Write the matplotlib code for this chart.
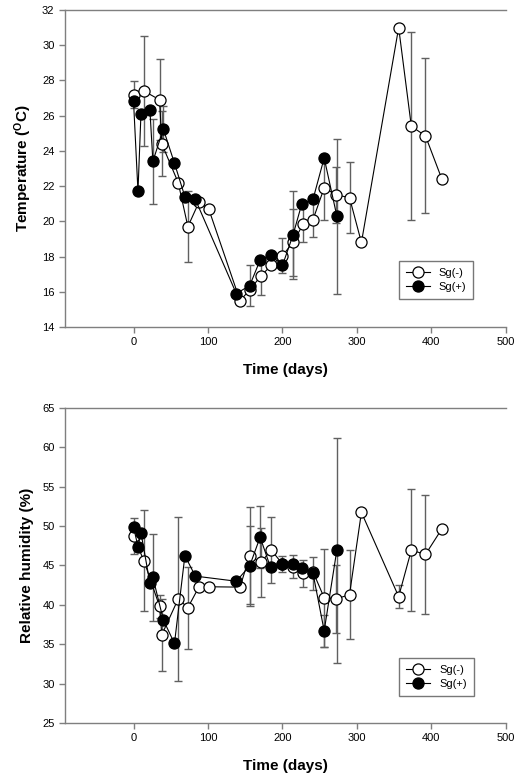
import matplotlib
matplotlib.use("Agg")
import matplotlib.pyplot as plt
import numpy as np

plt.rcParams['font.family'] = ['Liberation Sans', 'DejaVu Sans']
plt.rcParams['mathtext.fontset'] = 'custom'
plt.rcParams['mathtext.rm'] = 'Liberation Sans'
plt.rcParams['mathtext.bf'] = 'Liberation Sans:bold'

# sampling days
days_neg = [0, 14, 35, 38, 60, 73, 88, 101, 143, 156, 171, 185, 200, 214,
            228, 241, 256, 272, 290, 306, 356, 373, 392, 414]
days_pos = [0, 6, 10, 22, 26, 40, 55, 69, 83, 138, 156, 170, 184, 200,
            214, 226, 241, 256, 273]

# temperature, Sg(-) and Sg(+)
temp_neg = [27.2, 27.4, 26.9, 24.4, 22.2, 19.7, 21.1, 20.7, 15.5, 16.1, 16.9,
            17.5, 18.05, 18.8, 19.85, 20.1, 21.9, 21.5, 21.35, 18.8, 31.0,
            25.4, 24.85, 22.4]
temp_neg_err = [0.75, 3.1, 2.3, 1.85, 0, 2.0, 0, 0, 0, 0, 1.1, 0, 1.0, 1.9,
                1.05, 1.0, 1.8, 1.6, 2.0, 0, 0, 5.35, 4.4, 0]
temp_pos = [26.85, 21.7, 26.1, 26.35, 23.4, 25.25, 23.3, 21.4, 21.25, 15.9,
            16.35, 17.8, 18.1, 17.5, 19.2, 21.0, 21.25, 23.6, 20.3]
temp_pos_err = [0, 0, 0, 0, 2.4, 1.3, 0, 0, 0, 0, 1.15, 0, 0, 0, 2.5, 0, 0,
                0, 4.4]

# relative humidity, Sg(-) and Sg(+)
hum_neg = [48.7, 45.6, 39.8, 36.2, 40.75, 39.65, 42.3, 42.3, 42.25, 46.25,
           45.4, 46.95, 45.2, 44.85, 44.0, 44.2, 40.9, 40.75, 41.3, 51.75,
           41.05, 46.95, 46.4, 49.65]
hum_neg_err = [2.3, 6.4, 1.5, 4.6, 10.45, 5.2, 0, 0, 0, 6.2, 4.4, 4.2, 1.0,
               1.5, 1.7, 0, 6.2, 4.3, 5.65, 0, 1.5, 7.7, 7.6, 0]
hum_pos = [49.9, 47.4, 49.15, 42.8, 43.5, 38.1, 35.1, 46.25, 43.65, 43.0,
           44.95, 48.6, 44.75, 45.15, 45.15, 44.7, 44.0, 36.7, 46.95]
hum_pos_err = [0, 0, 0, 0, 5.5, 0, 0, 0, 0, 0, 5.1, 3.9, 0, 0, 0, 0, 2.1,
               2.0, 14.3]

fig = plt.figure(figsize=(5.27, 7.81), dpi=100)
ax1 = fig.add_axes([0.1233, 0.5813, 0.8367, 0.4059])
ax2 = fig.add_axes([0.1233, 0.0743, 0.8367, 0.4033])

spine_col = "#7f7f7f"
err_col = "#606060"


def draw(ax, yneg, eneg, ypos, epos):
    ax.errorbar(days_neg, yneg, yerr=eneg, fmt="none", ecolor=err_col,
                elinewidth=1.0, capsize=3, capthick=1.0, zorder=1)
    ax.errorbar(days_pos, ypos, yerr=epos, fmt="none", ecolor=err_col,
                elinewidth=1.0, capsize=3, capthick=1.0, zorder=1)
    ax.plot(days_neg, yneg, "-o", color="black", lw=0.8, ms=8,
            mfc="white", mec="black", mew=0.9, zorder=3, label="Sg(-)")
    ax.plot(days_pos, ypos, "-o", color="black", lw=0.8, ms=8,
            mfc="black", mec="black", mew=0.9, zorder=4, label="Sg(+)")
    for s in ax.spines.values():
        s.set_color(spine_col)
        s.set_linewidth(1.0)
    ax.spines["right"].set_visible(False)
    ax.tick_params(direction="out", length=4, width=1, color=spine_col,
                   labelsize=8, top=False, right=False)
    ax.set_xlim(-92, 500)
    ax.set_xticks([0, 100, 200, 300, 400, 500])
    ax.set_xlabel("Time (days)", fontsize=11, fontweight="bold", labelpad=11)


draw(ax1, temp_neg, temp_neg_err, temp_pos, temp_pos_err)
ax1.set_ylim(14, 32)
ax1.set_yticks(np.arange(14, 33, 2))
ax1.set_ylabel(r"Temperature ($\mathbf{^{O}}$C)", fontsize=11,
               fontweight="bold", labelpad=6)
leg1 = ax1.legend(loc="center", bbox_to_anchor=(0.746, 0.069, 0.191, 0.158),
                  fontsize=8, frameon=True, fancybox=False, numpoints=1,
                  handlelength=2.2, borderpad=0.6, labelspacing=0.4)
leg1.get_frame().set_edgecolor("#555555")
leg1.get_frame().set_linewidth(1.0)

draw(ax2, hum_neg, hum_neg_err, hum_pos, hum_pos_err)
ax2.set_ylim(25, 65)
ax2.set_yticks(np.arange(25, 66, 5))
ax2.set_ylabel("Relative humidity (%)", fontsize=11, fontweight="bold",
               labelpad=6)
leg2 = ax2.legend(loc="center", bbox_to_anchor=(0.751, 0.067, 0.183, 0.158),
                  fontsize=8, frameon=True, fancybox=False, numpoints=1,
                  handlelength=2.2, borderpad=0.6, labelspacing=0.4)
leg2.get_frame().set_edgecolor("#555555")
leg2.get_frame().set_linewidth(1.0)

fig.savefig("out.png", dpi=100)
